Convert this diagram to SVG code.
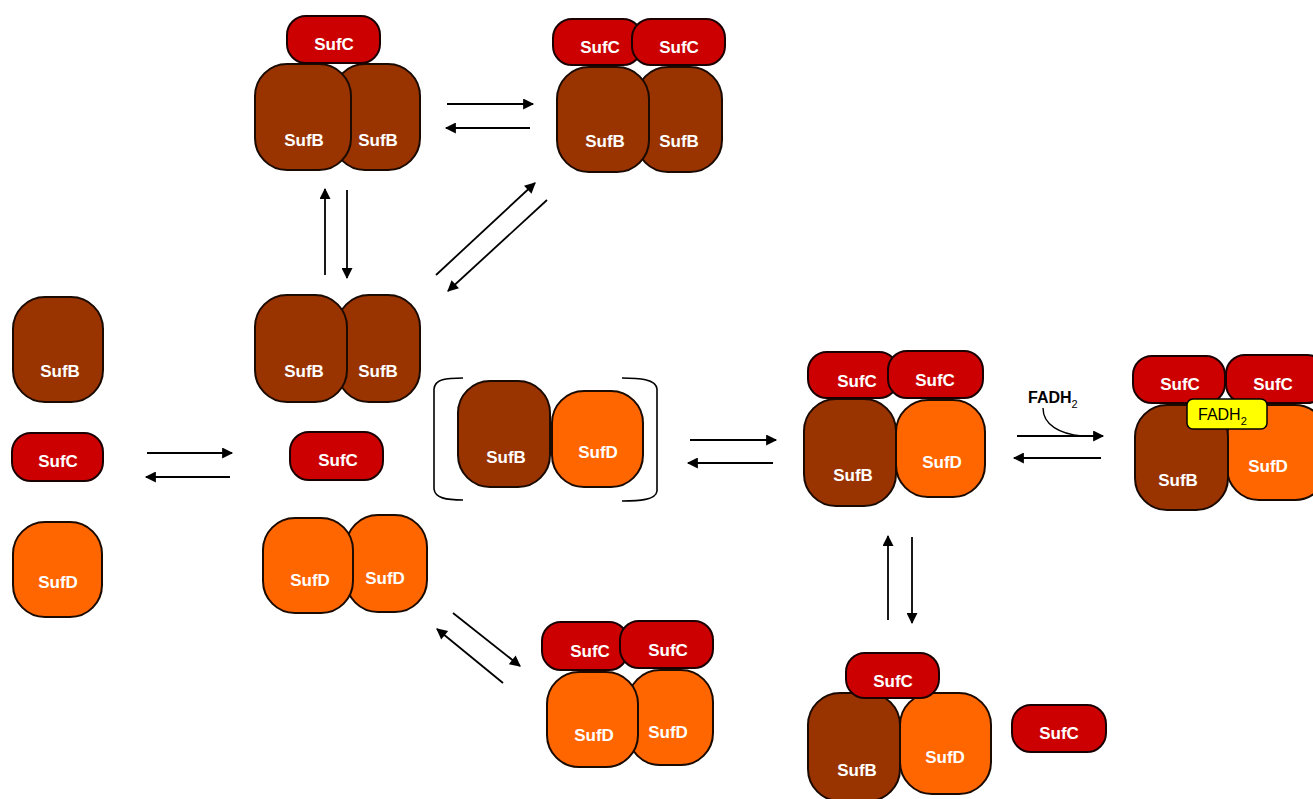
<svg xmlns="http://www.w3.org/2000/svg" width="1313" height="799" viewBox="0 0 1313 799">
<defs>
<marker id="ah" viewBox="0 0 10 10" refX="9" refY="5" markerWidth="13" markerHeight="11" markerUnits="userSpaceOnUse" orient="auto"><path d="M0 0 L10 5 L0 10 Z" fill="#000"/></marker>
<style>
.b{fill:#993300;stroke:#1a0a00;stroke-width:2}
.c{fill:#CC0000;stroke:#1a0000;stroke-width:2}
.d{fill:#FF6600;stroke:#1a0a00;stroke-width:2}
.t{font-family:"Liberation Sans",Arial,sans-serif;font-weight:bold;font-size:17px;fill:#fff;text-anchor:middle}
.a{stroke:#000;stroke-width:1.8;fill:none;marker-end:url(#ah)}
.k{font-family:"Liberation Sans",Arial,sans-serif;font-size:16px;fill:#000}
</style>
</defs>
<rect width="1313" height="799" fill="#fff"/>
<g id="connectors">
<line class="a" x1="447" y1="104" x2="533" y2="104"/>
<line class="a" x1="530" y1="128" x2="446" y2="128"/>
<line class="a" x1="325" y1="275" x2="325" y2="189"/>
<line class="a" x1="347" y1="190" x2="347" y2="278"/>
<line class="a" x1="436" y1="275" x2="535" y2="183"/>
<line class="a" x1="547" y1="200" x2="448" y2="291"/>
<line class="a" x1="147" y1="453" x2="232" y2="453"/>
<line class="a" x1="230" y1="477" x2="146" y2="477"/>
<line class="a" x1="690" y1="440" x2="776" y2="440"/>
<line class="a" x1="773" y1="463" x2="688" y2="463"/>
<line class="a" x1="1017" y1="436" x2="1103" y2="436"/>
<line class="a" x1="1101" y1="458" x2="1014" y2="458"/>
<path d="M1043 408 C1043 425 1060 434 1082 436" stroke="#000" stroke-width="1.4" fill="none"/>
<text class="k" x="1028" y="403" font-weight="bold" font-size="15">FADH<tspan font-size="11" font-weight="normal" dy="5">2</tspan></text>
<line class="a" x1="888" y1="620" x2="888" y2="536"/>
<line class="a" x1="912" y1="537" x2="912" y2="623"/>
<line class="a" x1="453" y1="613" x2="520" y2="666"/>
<line class="a" x1="503" y1="683" x2="437" y2="629"/>
</g>
<g id="node-sufc-sufb2">
<rect class="b" x="333" y="64" width="87" height="106" rx="32"/>
<rect class="b" x="255" y="64" width="96" height="106" rx="32"/>
<rect class="c" x="287" y="16" width="93" height="47" rx="19"/>
<text class="t" x="334" y="50">SufC</text>
<text class="t" x="304" y="146">SufB</text>
<text class="t" x="378" y="146">SufB</text>
</g>
<g id="node-sufc2-sufb2">
<rect class="b" x="636" y="67" width="86" height="105" rx="32"/>
<rect class="b" x="557" y="67" width="92" height="105" rx="32"/>
<rect class="c" x="553" y="19" width="89" height="46" rx="19"/>
<rect class="c" x="632" y="19" width="93" height="46" rx="19"/>
<text class="t" x="600" y="53">SufC</text>
<text class="t" x="679" y="53">SufC</text>
<text class="t" x="605" y="147">SufB</text>
<text class="t" x="679" y="147">SufB</text>
</g>
<g id="node-sufb">
<rect class="b" x="13" y="297" width="90" height="105" rx="32"/>
<text class="t" x="60" y="377">SufB</text>
</g>
<g id="node-sufc">
<rect class="c" x="12" y="433" width="91" height="48" rx="19"/>
<text class="t" x="58" y="467">SufC</text>
</g>
<g id="node-sufd">
<rect class="d" x="13" y="522" width="89" height="95" rx="32"/>
<text class="t" x="58" y="588">SufD</text>
</g>
<g id="node-sufb2">
<rect class="b" x="337" y="295" width="83" height="107" rx="32"/>
<rect class="b" x="255" y="295" width="92" height="107" rx="32"/>
<text class="t" x="304" y="377">SufB</text>
<text class="t" x="378" y="377">SufB</text>
</g>
<g id="node-sufc-mid">
<rect class="c" x="290" y="432" width="93" height="48" rx="19"/>
<text class="t" x="338" y="466">SufC</text>
</g>
<g id="node-sufd2">
<rect class="d" x="346" y="515" width="81" height="97" rx="32"/>
<rect class="d" x="263" y="518" width="90" height="95" rx="32"/>
<text class="t" x="310" y="586">SufD</text>
<text class="t" x="385" y="584">SufD</text>
</g>
<g id="node-sufbd-bracket">
<path d="M463 378 C446 378 435 379 434 389 L434 489 C435 498 446 500 463 500" stroke="#000" stroke-width="1.6" fill="none"/>
<path d="M622 378 C639 378 656 379 657 389 L657 491 C656 500 639 501 622 501" stroke="#000" stroke-width="1.6" fill="none"/>
<rect class="d" x="552" y="391" width="91" height="96" rx="32"/>
<rect class="b" x="458" y="381" width="92" height="106" rx="32"/>
<text class="t" x="506" y="463">SufB</text>
<text class="t" x="598" y="458">SufD</text>
</g>
<g id="node-sufc2-sufbd">
<rect class="d" x="896" y="400" width="89" height="97" rx="32"/>
<rect class="b" x="804" y="399" width="92" height="107" rx="32"/>
<rect class="c" x="808" y="352" width="90" height="46" rx="19"/>
<rect class="c" x="888" y="351" width="95" height="47" rx="19"/>
<text class="t" x="857" y="387">SufC</text>
<text class="t" x="935" y="386">SufC</text>
<text class="t" x="853" y="481">SufB</text>
<text class="t" x="942" y="468">SufD</text>
</g>
<g id="node-fadh2-complex">
<rect class="d" x="1227" y="405" width="100" height="95" rx="32"/>
<rect class="b" x="1135" y="405" width="93" height="105" rx="32"/>
<rect class="c" x="1133" y="356" width="92" height="47" rx="19"/>
<rect class="c" x="1226" y="355" width="100" height="48" rx="19"/>
<rect x="1187" y="399" width="80" height="30" rx="6" fill="#FFFF00" stroke="#000" stroke-width="1.5"/>
<text class="k" x="1198" y="420">FADH<tspan font-size="11" dy="5">2</tspan></text>
<text class="t" x="1180" y="390">SufC</text>
<text class="t" x="1273" y="390">SufC</text>
<text class="t" x="1178" y="486">SufB</text>
<text class="t" x="1268" y="472">SufD</text>
</g>
<g id="node-sufc2-sufd2">
<rect class="d" x="628" y="670" width="85" height="95" rx="32"/>
<rect class="d" x="547" y="672" width="91" height="95" rx="32"/>
<rect class="c" x="542" y="622" width="86" height="48" rx="19"/>
<rect class="c" x="620" y="621" width="93" height="47" rx="19"/>
<text class="t" x="590" y="657">SufC</text>
<text class="t" x="668" y="656">SufC</text>
<text class="t" x="594" y="741">SufD</text>
<text class="t" x="668" y="738">SufD</text>
</g>
<g id="node-sufc-sufbd">
<rect class="b" x="808" y="693" width="92" height="108" rx="32"/>
<rect class="d" x="900" y="693" width="91" height="101" rx="32"/>
<rect class="c" x="846" y="653" width="93" height="45" rx="19"/>
<text class="t" x="893" y="687">SufC</text>
<text class="t" x="857" y="776">SufB</text>
<text class="t" x="945" y="763">SufD</text>
</g>
<g id="node-sufc-free">
<rect class="c" x="1012" y="705" width="94" height="47" rx="19"/>
<text class="t" x="1059" y="739">SufC</text>
</g>
</svg>
